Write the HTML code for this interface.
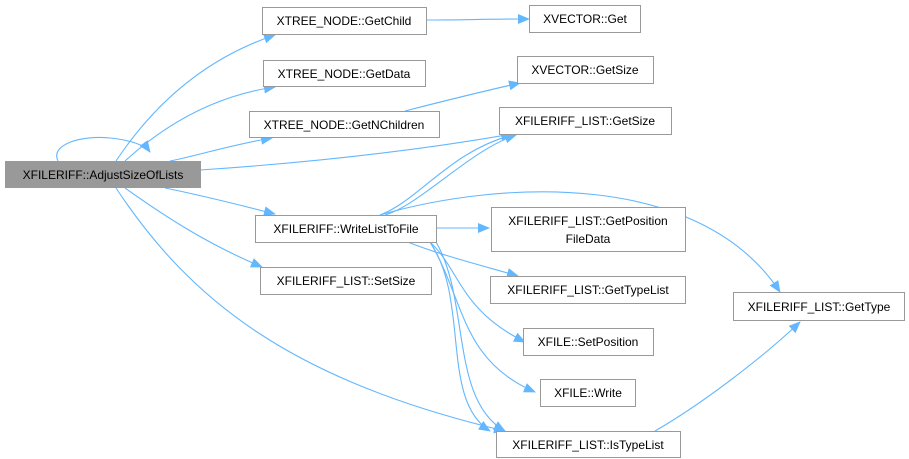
<!DOCTYPE html>
<html><head><meta charset="utf-8"><style>
html,body{margin:0;padding:0;background:#fff;}
svg{display:block;}
text{font-family:"Liberation Sans",sans-serif;font-size:12px;fill:#000;}
</style></head><body>
<svg width="909" height="459" viewBox="0 0 909 459" xmlns="http://www.w3.org/2000/svg">
<defs>
<marker id="a" markerWidth="12" markerHeight="10" refX="11" refY="5" orient="auto" markerUnits="userSpaceOnUse">
<path d="M0,0 L12,5 L0,10 z" fill="#63b7ff"/>
</marker>
</defs>
<g fill="none" stroke="#63b7ff" stroke-width="1.1" marker-end="url(#a)">
<path d="M58,161 C50,145 80,135 110,138 C130,140 145,145 150,152"/>
<path d="M116,161 C150,110 200,60 275,35"/>
<path d="M125,161 C170,120 220,95 275,87"/>
<path d="M170,161 C200,155 230,145 272,138"/>
<path d="M200,170 C320,162 420,150 512,134"/>
<path d="M165,188 C200,195 240,205 275,214"/>
<path d="M125,188 C170,220 210,245 262,267"/>
<path d="M116,188 C190,300 290,380 505,431"/>
<path d="M426,20 C460,20 490,19 529,19"/>
<path d="M405,111 C440,102 480,92 520,83"/>
<path d="M380,215 C420,200 450,150 516,134"/>
<path d="M385,215 C420,205 470,150 516,135"/>
<path d="M380,215 C500,180 700,170 780,292"/>
<path d="M436,228 C455,228 470,228 489,228"/>
<path d="M405,241 C440,255 480,265 518,276"/>
<path d="M430,242 C460,270 460,310 525,342"/>
<path d="M430,242 C465,300 460,360 535,392"/>
<path d="M430,242 C470,300 440,400 490,431"/>
<path d="M436,242 C470,300 450,400 505,431"/>
<path d="M655,431 C700,405 760,360 800,322"/>
</g>
<g stroke="#999" stroke-width="1" fill="#fff">
<rect x="5.5" y="161.5" width="195" height="26" fill="#999"/>
<rect x="262.5" y="7.5" width="164" height="27"/>
<rect x="263.5" y="60.5" width="162" height="26"/>
<rect x="249.5" y="111.5" width="190" height="26"/>
<rect x="529.5" y="5.5" width="111" height="27"/>
<rect x="517.5" y="56.5" width="136" height="27"/>
<rect x="499.5" y="107.5" width="172" height="27"/>
<rect x="255.5" y="215.5" width="181" height="27"/>
<rect x="491.5" y="207.5" width="194" height="44"/>
<rect x="260.5" y="267.5" width="171" height="27"/>
<rect x="490.5" y="276.5" width="195" height="27"/>
<rect x="523.5" y="328.5" width="130" height="27"/>
<rect x="540.5" y="379.5" width="95" height="27"/>
<rect x="496.5" y="431.5" width="184" height="26"/>
<rect x="733.5" y="292.5" width="171" height="28"/>
</g>
<g text-anchor="middle">
<text x="103" y="179">XFILERIFF::AdjustSizeOfLists</text>
<text x="344" y="25">XTREE_NODE::GetChild</text>
<text x="344" y="78">XTREE_NODE::GetData</text>
<text x="344" y="129">XTREE_NODE::GetNChildren</text>
<text x="585" y="23">XVECTOR::Get</text>
<text x="585" y="74">XVECTOR::GetSize</text>
<text x="585" y="125">XFILERIFF_LIST::GetSize</text>
<text x="346" y="233">XFILERIFF::WriteListToFile</text>
<text x="588" y="225">XFILERIFF_LIST::GetPosition</text>
<text x="588" y="243">FileData</text>
<text x="346" y="285">XFILERIFF_LIST::SetSize</text>
<text x="588" y="294">XFILERIFF_LIST::GetTypeList</text>
<text x="588" y="346">XFILE::SetPosition</text>
<text x="588" y="397">XFILE::Write</text>
<text x="588" y="449">XFILERIFF_LIST::IsTypeList</text>
<text x="819" y="311">XFILERIFF_LIST::GetType</text>
</g>
</svg>
</body></html>
